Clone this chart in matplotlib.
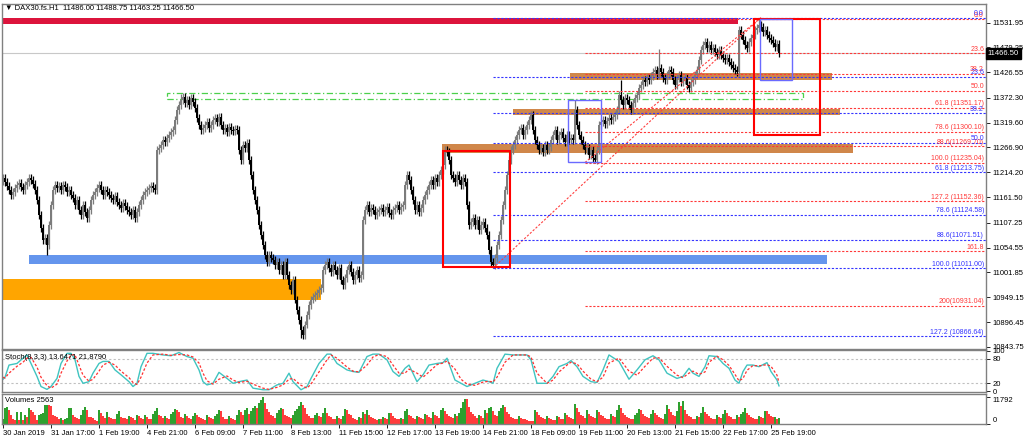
import numpy as np
import matplotlib.pyplot as plt
from matplotlib.patches import Rectangle
from matplotlib.transforms import blended_transform_factory

plt.rcParams['font.family'] = ['Liberation Sans', 'DejaVu Sans']

# ---- data (H1 bars, DAX30.fs) ----
header = "\u25bc DAX30.fs.H1  11486.00 11488.75 11463.25 11466.50"
first_open = 11195
close_prices = [
    11202, 11194, 11185, 11177, 11166, 11173, 11181, 11187, 11192, 11183, 11177, 11187,
    11194, 11202, 11198, 11189, 11177,
    11156, 11124, 11096, 11071, 11075, 11060,
    11103, 11145, 11177, 11187,
    11181, 11185, 11177, 11187, 11183, 11173, 11177, 11166,
    11160, 11145, 11156, 11134, 11124, 11145, 11130,
    11117, 11134, 11156, 11166,
    11173, 11181, 11187, 11177, 11166, 11177, 11173,
    11166, 11160, 11156, 11164, 11151, 11145, 11138, 11149, 11143, 11134, 11130, 11124, 11134, 11117, 11130,
    11145, 11156, 11166, 11173, 11177, 11181, 11185, 11181, 11177,
    11262,
    11266, 11272, 11283, 11279, 11287, 11293, 11300, 11304,
    11325, 11346, 11357, 11368, 11374, 11361,
    11368, 11357, 11372, 11363, 11351,
    11329, 11315, 11304, 11308,
    11315, 11321, 11308, 11315, 11325, 11329, 11321, 11332,
    11315, 11304, 11308, 11300, 11310, 11304, 11302, 11306, 11304,
    11262, 11240, 11272, 11266, 11276,
    11240, 11209, 11177, 11156, 11134, 11103, 11081, 11060, 11039, 11024,
    11039, 11033, 11028, 11018, 11024,
    11007, 11018, 10997, 11024, 10997, 10975, 10965, 10986,
    10944, 10922, 10901, 10880, 10869, 10891, 10912,
    10933, 10944, 10950, 10954, 10958, 10965, 10969,
    11007, 11018, 11024, 11011, 11003, 11018, 11007,
    10997, 11011, 10986, 10975, 10990, 11007, 11018, 11003, 10986, 10997, 11007, 10990, 10997,
    11113, 11134, 11145, 11130, 11138, 11134, 11124, 11130,
    11134, 11138, 11130, 11134, 11141, 11128, 11124, 11134, 11138, 11145, 11134, 11141, 11145,
    11187, 11209, 11198, 11177,
    11156, 11134, 11145, 11130, 11138, 11156,
    11166, 11177, 11187, 11198, 11187, 11202, 11194, 11209, 11219,
    11230, 11262, 11257, 11240,
    11209, 11202, 11194, 11209, 11198, 11187, 11202, 11194,
    11145, 11103, 11109,
    11117, 11103, 11113, 11092, 11103, 11109, 11096, 11081,
    11050, 11024, 11018, 11033,
    11060, 11081, 11113, 11145, 11177, 11209, 11240, 11262,
    11272, 11283, 11293, 11304, 11308, 11293, 11304, 11315, 11325, 11336,
    11304, 11283, 11272, 11262, 11266, 11257, 11272, 11262, 11268,
    11283, 11293, 11304, 11283, 11293, 11300, 11287, 11279, 11293, 11283, 11287,
    11283, 11346, 11315, 11293,
    11283, 11272, 11262, 11266, 11251, 11262, 11245, 11240, 11262,
    11315, 11321, 11325, 11317, 11323, 11329, 11325, 11332, 11336, 11346,
    11378, 11368, 11357, 11372,
    11368, 11357, 11346, 11361, 11372, 11378,
    11393, 11399, 11410, 11406, 11414, 11410, 11419,
    11427, 11431, 11421, 11435, 11427, 11414, 11410, 11421, 11431, 11427, 11410, 11399,
    11414, 11421, 11406, 11410, 11414, 11399, 11393, 11406, 11410, 11421, 11431,
    11452, 11474, 11484, 11491, 11478,
    11484, 11474, 11478, 11469, 11463, 11474, 11463, 11457, 11452, 11457, 11448, 11442, 11435, 11431, 11427,
    11516, 11505, 11495, 11484, 11478, 11491, 11499, 11505,
    11516, 11520, 11527, 11522, 11512, 11516, 11505,
    11499, 11495, 11489, 11480, 11486, 11466.5,
]
# bars whose wick clearly sticks out (bar index, extreme price)
spike_bars = [22, 89, 149, 221, 245, 286, 296, 309, 328, 378]
spike_prices = [11039, 11381, 10862, 11269, 11011, 11368, 11235, 11410, 11476, 11542]

volumes = [
    2400, 6800, 7400, 6000, 3900, 2400, 1700, 5300, 1700, 5300, 1700, 3900, 3200, 6800, 6000, 5300, 3900, 1700, 3900, 4300,
    4900, 8200, 8500, 8200, 8000, 3900, 3500, 2900, 2400, 2700, 1700, 2300, 2500, 6800, 7000, 3900, 3200, 2500, 2000, 3900,
    6000, 7500, 6000, 3200, 3000, 2500, 1700, 1200, 5900, 4800, 3600, 2600, 5200, 3100, 2700, 2400, 2100, 4300, 5600, 3100,
    2800, 2600, 2200, 3600, 2900, 2500, 1900, 4100, 3300, 2700, 2400, 3800, 3100, 2300, 2000, 4500, 5500, 6800, 4000, 3300,
    2800, 3500, 2600, 2200, 4500, 5300, 6500, 5900, 5400, 3000, 2500, 4200, 3400, 2800, 2100, 3300, 4800, 3900, 3100, 2500,
    2200, 1800, 4000, 3200, 2600, 2300, 3700, 4200, 6000, 5800, 2900, 2400, 2000, 3500, 2700, 2200, 1800, 4100, 6000, 5200,
    3800, 6200, 7000, 4500, 5600, 7200, 8000, 6800, 9000, 10500, 11792, 9000, 6500, 5200, 4100, 3300, 2700, 4600, 6200, 6800,
    6500, 4000, 3400, 2900, 2600, 3800, 5500, 6700, 7800, 9650, 8200, 7000, 4500, 3600, 2800, 2500, 3900, 4700, 3700, 3100,
    5000, 6800, 4800, 3500, 2900, 2400, 2200, 3600, 2800, 2300, 3400, 6500, 6000, 4500, 3800, 2500, 2000, 1700, 3200, 2600,
    5200, 4300, 6000, 3900, 3000, 2500, 2000, 1700, 2400, 2000, 3100, 2600, 2200, 4900, 4800, 3300, 2800, 2400, 2000, 2800,
    2300, 5600, 6500, 4000, 3400, 2800, 2200, 3500, 2900, 2500, 2000, 4200, 3800, 3000, 2600, 5200, 3900, 3500, 2800, 6000,
    7200, 5500, 4300, 3600, 3000, 2500, 4300, 3700, 5000, 6800, 9650, 11090, 11000, 7500, 5200, 4200, 3500, 2600, 3900, 3300,
    2800, 6000, 4600, 6800, 7500, 5600, 4000, 3300, 5700, 7000, 8200, 7500, 5400, 4300, 3200, 2700, 2300, 2100, 3500, 2800,
    2400, 2000, 1700, 1500, 1400, 1300, 6000, 5300, 3800, 3200, 2600, 2200, 3400, 2800, 2300, 1800, 1600, 3700, 2900, 2400,
    2000, 4800, 3800, 3200, 2600, 2200, 8900, 7200, 5400, 4100, 3500, 2800, 6000, 4300, 3600, 3100, 2700, 6000, 5300, 3900,
    3300, 2800, 2400, 2100, 4200, 3600, 3000, 6300, 8500, 6800, 4600, 3800, 3200, 2800, 2300, 2000, 4000, 5000, 6500, 6300,
    4500, 3600, 3000, 2600, 4500, 6300, 5000, 4000, 3200, 2600, 2200, 4500, 8200, 6400, 5100, 4000, 3300, 5800, 9400, 8000,
    9900, 6000, 4200, 3500, 2900, 2400, 2100, 3700, 3000, 4700, 7500, 5200, 4200, 3500, 2800, 2300, 2000, 3900, 3200, 2600,
    4400, 6000, 4600, 3600, 2900, 2400, 2000, 3800, 3200, 4200, 5200, 6800, 5000, 3900, 3200, 2700, 2300, 2000, 3600, 2900,
    2500, 5800, 5500, 4200, 3500, 2900, 3200, 2400, 2563,
]

stoch_bars = [0, 1, 3, 7, 10, 12, 14, 17, 19, 22, 24, 27, 29, 32, 34, 36, 38, 40, 43, 45, 48, 50, 53, 56, 59, 63, 65, 67,
              69, 72, 75, 80, 84, 88, 92, 95, 98, 100, 102, 105, 108, 112, 115, 118, 122, 125, 130, 133, 137, 140, 143,
              145, 149, 152, 154, 158, 162, 164, 167, 172, 175, 178, 182, 185, 188, 192, 195, 198, 201, 203, 207, 210,
              213, 217, 220, 222, 226, 229, 232, 236, 240, 243, 245, 247, 251, 255, 262, 264, 267, 272, 275, 278, 282,
              284, 287, 290, 294, 297, 300, 303, 308, 313, 317, 321, 325, 328, 332, 337, 340, 343, 345, 348, 351, 353,
              357, 360, 363, 366, 368, 370, 372, 375, 378, 382, 384, 387, 388]
stoch_k = [30, 35, 65, 69, 82, 90, 69, 37, 12, 5, 12, 32, 69, 94, 94, 78, 37, 20, 24, 45, 69, 74, 74, 53, 41, 24, 12, 20,
           61, 94, 94, 90, 88, 96, 86, 82, 53, 24, 16, 20, 47, 32, 20, 24, 28, 8, 4, 4, 16, 20, 45,
           24, 4, 12, 32, 69, 92, 92, 69, 53, 49, 47, 86, 92, 92, 78, 49, 37, 57, 65, 24, 41,
           65, 69, 71, 82, 28, 20, 12, 20, 28, 24, 20, 57, 92, 90, 90, 78, 20, 20, 37, 61, 69,
           76, 61, 37, 24, 22, 53, 90, 74, 30, 53, 78, 88, 78, 45, 32, 37, 57, 45, 37, 61, 88,
           86, 69, 57, 28, 20, 49, 65, 65, 61, 71, 49, 28, 13.6471]
stoch_d = [35, 33, 45, 62, 72, 82, 84, 60, 35, 14, 8, 18, 45, 75, 90, 90, 65, 40, 25, 30, 50, 65, 72, 65, 50, 34, 22, 17,
           35, 70, 90, 92, 89, 91, 90, 85, 70, 45, 26, 18, 30, 38, 28, 22, 25, 18, 8, 5, 10, 16, 30,
           32, 15, 8, 18, 48, 78, 90, 82, 60, 50, 48, 65, 85, 91, 86, 65, 45, 45, 55, 45, 35,
           48, 66, 70, 75, 55, 30, 18, 15, 23, 25, 23, 35, 72, 90, 90, 85, 45, 20, 28, 48, 65,
           72, 68, 50, 30, 24, 35, 70, 82, 50, 40, 62, 82, 83, 62, 40, 34, 45, 50, 42, 48, 72,
           87, 78, 64, 42, 26, 32, 52, 64, 63, 66, 62, 40, 21.879]

price_ticks = [11531.95, 11479.25, 11426.55, 11372.30, 11319.60, 11266.90, 11214.20,
               11161.50, 11107.25, 11054.55, 11001.85, 10949.15, 10896.45, 10843.75]
last_price = 11466.50
date_bars = [0, 24, 48, 72, 96, 120, 144, 168, 192, 216, 240, 264, 288, 312, 336, 360, 384]
date_labels = ['30 Jan 2019', '31 Jan 17:00', '1 Feb 19:00', '4 Feb 21:00', '6 Feb 09:00', '7 Feb 11:00',
               '8 Feb 13:00', '11 Feb 15:00', '12 Feb 17:00', '13 Feb 19:00', '14 Feb 21:00', '18 Feb 09:00',
               '19 Feb 11:00', '20 Feb 13:00', '21 Feb 15:00', '22 Feb 17:00', '25 Feb 19:00']

# fibonacci tools: (start bar, end bar, 0% price, 100% price)
red_fib = (291, 378, 11539.06, 11235.04)
red_ratios = [0, 23.6, 38.2, 50, 61.8, 78.6, 88.6, 100, 127.2, 161.8, 200]
red_labels = ['0.0', '23.6', '38.2', '50.0', '61.8 (11351.17)', '78.6 (11300.10)', '88.6(11269.70)',
              '100.0 (11235.04)', '127.2 (11152.36)', '161.8', '200(10931.04)']
blue_fib = (245, 379, 11542.5, 11011.0)
blue_ratios = [0, 23.6, 38.2, 50, 61.8, 78.6, 88.6, 100, 127.2]
blue_labels = ['0.0', '23.6', '38.2', '50.0', '61.8 (11213.75)', '78.6 (11124.58)', '88.6(11071.51)',
               '100.0 (11011.00)', '127.2 (10866.64)']

# zones: (bar from, bar to, price low, price high, colour)
zones = [
    (-1.5, 367.5, 11529, 11541, '#dc143c'),
    (283.5, 414.5, 11410, 11425, '#d0874a'),
    (255.0, 418.5, 11336, 11348, '#d0874a'),
    (219.5, 425.0, 11255, 11274, '#d0874a'),
    (13.0, 412.0, 11020, 11039, '#6495ed'),
    (-0.5, 159.0, 10943, 10988, '#ffa500'),
]
red_boxes = [(220, 253.5, 11013, 11259), (375.5, 408.5, 11293, 11539)]
blue_boxes = [(282.5, 299, 11236, 11368), (378.5, 394.5, 11410, 11539)]
green_box = (82, 400, 11369, 11382)

# ---- figure ----
W, H = 1024, 440
fig = plt.figure(figsize=(W / 100, H / 100), dpi=100)
ax = fig.add_axes([2 / W, 91 / H, 984 / W, 345 / H])
ax_st = fig.add_axes([2 / W, 48 / H, 984 / W, 42 / H])
ax_v = fig.add_axes([2 / W, 16 / H, 984 / W, 30 / H])

for a in (ax, ax_st, ax_v):
    a.set_xlim(-0.5, 491.5)
    for s in a.spines.values():
        s.set_color('#808080')
        s.set_linewidth(1.0)
    a.yaxis.tick_right()
    a.tick_params(axis='y', length=3, width=0.6, pad=2, labelsize=5.5, colors='black')
ax.set_xticks([])
ax_st.set_xticks([])

# zones behind everything
for x0, x1, lo, hi, col in zones:
    ax.add_patch(Rectangle((x0, lo), x1 - x0, hi - lo, facecolor=col, edgecolor='none', zorder=1))
gx0, gx1, glo, ghi = green_box
ax.add_patch(Rectangle((gx0, glo), gx1 - gx0, ghi - glo, fill=False, edgecolor='#4cd04c',
                       linestyle=(0, (5, 2, 1, 2)), linewidth=0.9, zorder=2))

# bid line
ax.axhline(last_price, color='#c8c8c8', linewidth=0.8, zorder=1.5)

# candles
closes = np.array(close_prices, dtype=float)
opens = np.concatenate([[first_open], closes[:-1]])
xb = np.arange(len(closes))
body_hi = np.maximum(opens, closes)
body_lo = np.minimum(opens, closes)
highs = body_hi + 8
lows = body_lo - 8
for b, p in zip(spike_bars, spike_prices):
    if p > body_hi[b]:
        highs[b] = p
    else:
        lows[b] = p
cols = np.where(closes >= opens, '#7c7c7c', '#000000')
ax.vlines(xb, lows, highs, colors=cols, linewidth=0.9, zorder=3)
ax.bar(xb, np.maximum(body_hi - body_lo, 2.5), bottom=body_lo, width=0.95, color=cols,
       linewidth=0, zorder=3)

# fibonacci levels
def draw_fib(fib, ratios, labels, color):
    b0, b1, p0, p100 = fib
    ax.plot([b0, b1], [p100, p0], color='#ff4040', linestyle=(0, (2, 1.5)), linewidth=0.8, zorder=4)
    for r, lab in zip(ratios, labels):
        lvl = p0 - r / 100.0 * (p0 - p100)
        ax.plot([b0, 491.5], [lvl, lvl], color=color, linestyle=(0, (2, 1.5)), linewidth=0.8, zorder=4)
        ax.text(490.5, lvl + 1, lab, color=color, fontsize=5, ha='right', va='bottom', zorder=6)

draw_fib(red_fib, red_ratios, red_labels, '#ff3838')
draw_fib(blue_fib, blue_ratios, blue_labels, '#3434ff')

for x0, x1, lo, hi in red_boxes:
    ax.add_patch(Rectangle((x0, lo), x1 - x0, hi - lo, fill=False, edgecolor='#ff0000',
                           linewidth=1.5, zorder=5))
for x0, x1, lo, hi in blue_boxes:
    ax.add_patch(Rectangle((x0, lo), x1 - x0, hi - lo, fill=False, edgecolor='#6a6aff',
                           linewidth=1.0, zorder=5))

ax.set_ylim(10839.5, 11571.2)
ax.set_yticks(price_ticks)
ax.set_yticklabels([f'{p:.2f}' for p in price_ticks])
tr = blended_transform_factory(ax.transAxes, ax.transData)
ax.text(1.002, last_price, f'{last_price:.2f}', transform=tr, color='white', fontsize=5.5,
        ha='left', va='center', zorder=10,
        bbox=dict(boxstyle='square,pad=0.25', facecolor='black', edgecolor='black'))

# stochastic
ax_st.axhline(80, color='#c0c0c0', linestyle=(0, (2, 2)), linewidth=0.8)
ax_st.axhline(20, color='#c0c0c0', linestyle=(0, (2, 2)), linewidth=0.8)
ax_st.plot(stoch_bars, stoch_k, color='#40c4c0', linewidth=1.0)
ax_st.plot(stoch_bars, stoch_d, color='#ff3030', linestyle=(0, (2, 1.5)), linewidth=0.9)
ax_st.set_ylim(-1.5, 102.2)
ax_st.set_yticks([100, 80, 20, 0])

# volumes
vol = np.array(volumes, dtype=float)
vcols = ['#2ea02e' if i == 0 or vol[i] > vol[i - 1] else '#ff3c3c' for i in range(len(vol))]
ax_v.bar(np.arange(len(vol)), vol, width=0.6, color=vcols, linewidth=0)
ax_v.set_ylim(0, 13100)
ax_v.set_yticks([0, 11792])
ax_v.set_yticklabels(['0', '11792'])
tl = ax_v.get_yticklabels()
tl[0].set_va('bottom')
tl[1].set_va('top')
ax_v.set_xticks(date_bars)
ax_v.set_xticklabels(date_labels, ha='left')
ax_v.tick_params(axis='x', length=3, width=0.6, pad=1.5, labelsize=5.5)

# captions
fig.text(5 / W, 1 - 8 / H, header, fontsize=5.5, va='center', ha='left')
fig.text(5 / W, 1 - 357 / H, 'Stoch(8,3,3) 13.6471 21.8790', fontsize=5.5, va='center', ha='left')
fig.text(5 / W, 1 - 400 / H, 'Volumes 2563', fontsize=5.5, va='center', ha='left')

fig.savefig('out.png', dpi=100)
